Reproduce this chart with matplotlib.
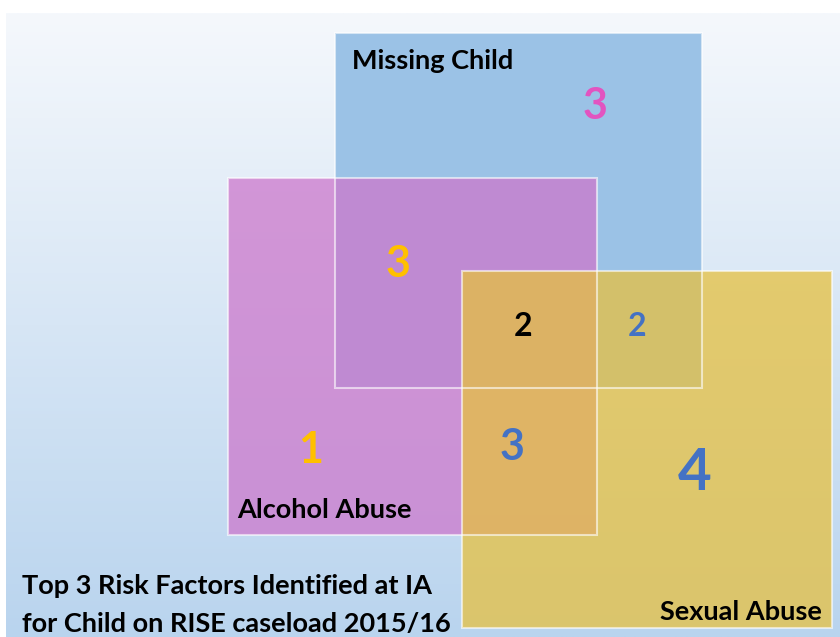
import matplotlib.pyplot as plt
import numpy as np
from matplotlib.patches import Rectangle
from matplotlib.colors import to_rgb

## Data: three risk factors and the counts in each overlap region
factors = ["Missing Child", "Alcohol Abuse", "Sexual Abuse"]
regions = ["Missing only", "Missing & Alcohol", "All three", "Missing & Sexual",
           "Alcohol only", "Alcohol & Sexual", "Sexual only"]
counts = [3, 3, 2, 2, 1, 3, 4]
title_lines = ["Top 3 Risk Factors Identified at IA",
               "for Child on RISE caseload 2015/16"]

## Layout (pixel space of the 840x637 canvas)
W, H = 840, 637
boxes = [(335, 33, 367, 355),   # x, y, width, height
         (228, 178, 369, 357),
         (462, 271, 370, 357)]
box_colors = ["#9bc2e6", "#cc78cc", "#e6c040"]
box_alpha = [1.0, 0.75, 0.75]

label_pos = [(352, 61, "left"), (237, 510, "left"), (822, 612, "right")]
count_pos = [(595, 106), (398, 264), (523, 326), (637, 326),
             (311, 450), (512, 447), (695, 473)]
count_colors = ["#e254c0", "#ffc000", "#000000", "#4472c4",
                "#ffc000", "#4472c4", "#4472c4"]
count_sizes = [31, 31, 23, 23, 31, 31, 42]

plt.rcParams['font.family'] = ['Lato', 'DejaVu Sans']

fig = plt.figure(figsize=(W / 100, H / 100), dpi=100)
ax = fig.add_axes([0, 0, 1, 1])
ax.set_xlim(0, W)
ax.set_ylim(H, 0)
ax.axis("off")

## background gradient
top = np.array(to_rgb("#f5f8fc"))
bot = np.array(to_rgb("#b9d4ee"))
t = np.linspace(0, 1, 256)[:, None, None]
grad = top * (1 - t) + bot * t
ax.imshow(np.repeat(grad, 2, axis=1), extent=[6, W, H, 13],
          aspect="auto", zorder=0)

for (x, y, w, h), c, a in zip(boxes, box_colors, box_alpha):
    ax.add_patch(Rectangle((x, y), w, h, facecolor=c, alpha=a,
                           edgecolor="none", zorder=1))
    ax.add_patch(Rectangle((x, y), w, h, facecolor="none",
                           edgecolor="white", lw=1.5, alpha=0.6, zorder=2))

for name, (x, y, ha) in zip(factors, label_pos):
    ax.text(x, y, name, fontsize=19.5, fontweight="bold", color="black",
            ha=ha, va="center", zorder=3)

for n, (x, y), c, s in zip(counts, count_pos, count_colors, count_sizes):
    ax.text(x, y, str(n), fontsize=s, fontweight="bold", color=c,
            ha="center", va="center", zorder=3)

for i, line in enumerate(title_lines):
    ax.text(22, 586 + i * 38, line, fontsize=19.5, fontweight="bold",
            color="black", ha="left", va="center", zorder=3)

fig.savefig("out.png", dpi=100)
